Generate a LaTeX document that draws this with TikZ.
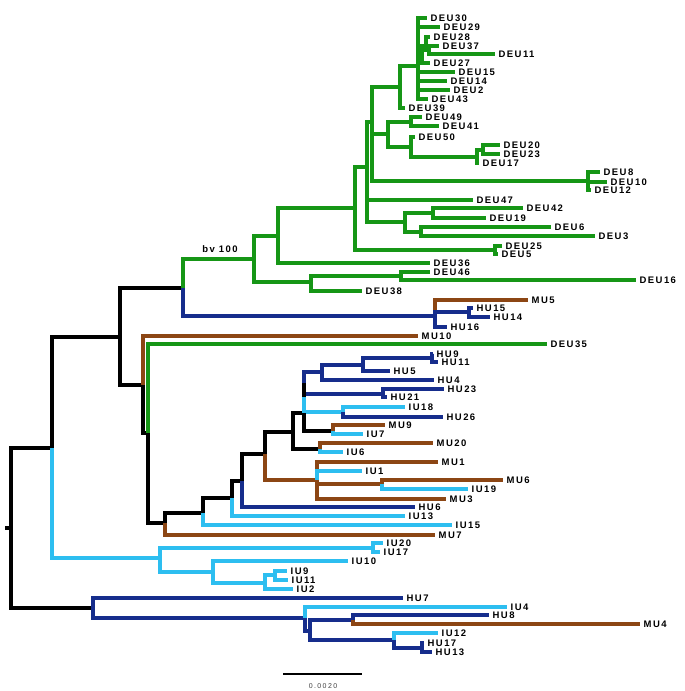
\documentclass[tikz,border=0pt]{standalone}
\usepackage{fontspec}
\setmainfont{Liberation Sans}
\newfontfamily\leaffont[LetterSpace=15]{Liberation Sans}
\newfontfamily\barfont[LetterSpace=20]{Liberation Sans}
\definecolor{treegreen}{RGB}{22,150,22}
\definecolor{treeblue}{RGB}{22,45,140}
\definecolor{treecyan}{RGB}{45,190,240}
\definecolor{treebrown}{RGB}{140,70,20}
\tikzset{
	leaf/.style={anchor=west,inner xsep=3.5pt,inner ysep=0pt,font=\leaffont\bfseries\fontsize{9.5}{9.5}\selectfont},
	branch/.style={line width=3.2pt},
	kbr/.style={branch,color=black},
	gbr/.style={branch,color=treegreen},
	bbr/.style={branch,color=treeblue},
	cbr/.style={branch,color=treecyan},
	mbr/.style={branch,color=treebrown},
	bvlabel/.style={font=\leaffont\bfseries\fontsize{9.5}{9.5}\selectfont},
	scalelabel/.style={font=\barfont\fontsize{7}{7}\selectfont,text=black!75}
}

\begin{document}
\begin{tikzpicture}[x=1pt,y=-1pt]
\useasboundingbox (0,0) rectangle (685,691);

%%%% inner nodes, backbone
\coordinate (base) at (5,528);
\coordinate (root) at (11,528);
\coordinate (n52) at (52,448);
\coordinate (n120) at (120,337);
\coordinate (bv) at (183,288);
\coordinate (n143) at (143,385);
\coordinate (n148) at (148,433);
\coordinate (n165) at (165,523);
\coordinate (n203) at (203,513);
\coordinate (n232) at (232,498);
\coordinate (n242) at (242,481);
\coordinate (n265) at (265,454);
\coordinate (n293) at (293,432);
\coordinate (p1) at (304,413);
\coordinate (p2) at (304,397);
\coordinate (p3) at (304,383);

%%%% inner nodes, DEU
\coordinate (gA) at (254,259);
\coordinate (gB) at (278,236);
\coordinate (gC) at (355,208);
\coordinate (gD) at (367,167);
\coordinate (gF) at (372,122);
\coordinate (gG) at (400,87);
\coordinate (gM) at (418,66);
\coordinate (gN) at (422,57);
\coordinate (gO) at (426,46);
\coordinate (gP) at (429,50);
\coordinate (gH) at (388,134);
\coordinate (gQ) at (411,122);
\coordinate (gR) at (411,147);
\coordinate (gS) at (477,157);
\coordinate (gT) at (483,150);
\coordinate (gK) at (588,181);
\coordinate (gI) at (405,222);
\coordinate (gJ) at (433,213);
\coordinate (gU) at (421,232);
\coordinate (gE) at (495,250);
\coordinate (gL) at (311,282);
\coordinate (gV) at (401,276);

%%%% inner nodes, HU / IU / MU
\coordinate (hA) at (435,316);
\coordinate (hB) at (469,312);
\coordinate (bA) at (322,372);
\coordinate (bA1) at (363,365);
\coordinate (bA2) at (432,358);
\coordinate (bB) at (383,394);
\coordinate (cC) at (343,412);
\coordinate (mD) at (333,431);
\coordinate (mC) at (320,449);
\coordinate (mA) at (317,480);
\coordinate (mB) at (382,484);
\coordinate (iQ) at (160,558);
\coordinate (iR) at (373,548);
\coordinate (iS) at (213,572);
\coordinate (iT) at (265,583);
\coordinate (iU) at (275,575);
\coordinate (hV) at (93,608);
\coordinate (hW) at (305,618);
\coordinate (hX) at (310,631);
\coordinate (hY) at (353,620);
\coordinate (hZ) at (394,640);
\coordinate (hZ2) at (422,648);

%%%% leaves, DEU
\node[leaf] (DEU30) at (427,18) {DEU30};
\node[leaf] (DEU29) at (440,27) {DEU29};
\node[leaf] (DEU28) at (430,37) {DEU28};
\node[leaf] (DEU37) at (439,46) {DEU37};
\node[leaf] (DEU11) at (495,54) {DEU11};
\node[leaf] (DEU27) at (430,63) {DEU27};
\node[leaf] (DEU15) at (455,72) {DEU15};
\node[leaf] (DEU14) at (447,81) {DEU14};
\node[leaf] (DEU2) at (450,90) {DEU2};
\node[leaf] (DEU43) at (428,99) {DEU43};
\node[leaf] (DEU39) at (405,108) {DEU39};
\node[leaf] (DEU49) at (422,117) {DEU49};
\node[leaf] (DEU41) at (439,126) {DEU41};
\node[leaf] (DEU50) at (415,137) {DEU50};
\node[leaf] (DEU20) at (500,145) {DEU20};
\node[leaf] (DEU23) at (500,154) {DEU23};
\node[leaf] (DEU17) at (479,163) {DEU17};
\node[leaf] (DEU8) at (600,172) {DEU8};
\node[leaf] (DEU10) at (607,182) {DEU10};
\node[leaf] (DEU12) at (591,190) {DEU12};
\node[leaf] (DEU47) at (473,200) {DEU47};
\node[leaf] (DEU42) at (523,208) {DEU42};
\node[leaf] (DEU19) at (486,218) {DEU19};
\node[leaf] (DEU6) at (551,227) {DEU6};
\node[leaf] (DEU3) at (595,236) {DEU3};
\node[leaf] (DEU25) at (502,246) {DEU25};
\node[leaf] (DEU5) at (498,254) {DEU5};
\node[leaf] (DEU36) at (430,263) {DEU36};
\node[leaf] (DEU46) at (430,272) {DEU46};
\node[leaf] (DEU16) at (636,280) {DEU16};
\node[leaf] (DEU38) at (362,291) {DEU38};
\node[leaf] (DEU35) at (547,344) {DEU35};

%%%% leaves, HU / IU / MU
\node[leaf] (MU5) at (528,300) {MU5};
\node[leaf] (HU15) at (473,308) {HU15};
\node[leaf] (HU14) at (490,317) {HU14};
\node[leaf] (HU16) at (447,327) {HU16};
\node[leaf] (MU10) at (418,336) {MU10};
\node[leaf] (HU9) at (433,354) {HU9};
\node[leaf] (HU11) at (438,362) {HU11};
\node[leaf] (HU5) at (390,371) {HU5};
\node[leaf] (HU4) at (434,380) {HU4};
\node[leaf] (HU23) at (444,389) {HU23};
\node[leaf] (HU21) at (387,397) {HU21};
\node[leaf] (IU18) at (405,407) {IU18};
\node[leaf] (HU26) at (443,417) {HU26};
\node[leaf] (MU9) at (385,425) {MU9};
\node[leaf] (IU7) at (363,434) {IU7};
\node[leaf] (MU20) at (433,443) {MU20};
\node[leaf] (IU6) at (343,452) {IU6};
\node[leaf] (MU1) at (438,462) {MU1};
\node[leaf] (IU1) at (362,471) {IU1};
\node[leaf] (MU6) at (503,480) {MU6};
\node[leaf] (IU19) at (468,489) {IU19};
\node[leaf] (MU3) at (446,499) {MU3};
\node[leaf] (HU6) at (415,507) {HU6};
\node[leaf] (IU13) at (405,516) {IU13};
\node[leaf] (IU15) at (452,525) {IU15};
\node[leaf] (MU7) at (435,535) {MU7};
\node[leaf] (IU20) at (383,543) {IU20};
\node[leaf] (IU17) at (380,552) {IU17};
\node[leaf] (IU10) at (348,561) {IU10};
\node[leaf] (IU9) at (287,571) {IU9};
\node[leaf] (IU11) at (288,580) {IU11};
\node[leaf] (IU2) at (293,589) {IU2};
\node[leaf] (HU7) at (403,598) {HU7};
\node[leaf] (IU4) at (507,607) {IU4};
\node[leaf] (HU8) at (489,615) {HU8};
\node[leaf] (MU4) at (640,624) {MU4};
\node[leaf] (IU12) at (438,633) {IU12};
\node[leaf] (HU17) at (424,643) {HU17};
\node[leaf] (HU13) at (432,652) {HU13};

%%%% top of the tree
\draw[kbr] (root) |- (n52) (n52) |- (n120) (n120) |- (bv);
\draw[gbr] (bv) |- (gA) (gA) |- (gB) (gB) |- (gC) (gC) |- (gD) (gD) |- (gF)
	(gF) |- (gG) (gG) |- (gM) (gM) |- (DEU30) (gM) |- (DEU29) (gM) |- (gN)
	(gN) |- (gO) (gO) |- (DEU28) (gO) |- (gP) (gP) |- (DEU37) (gP) |- (DEU11)
	(gN) |- (DEU27) (gM) |- (DEU15) (gM) |- (DEU14) (gM) |- (DEU2) (gM) |- (DEU43)
	(gG) |- (DEU39)
	(gF) |- (gH) (gH) |- (gQ) (gQ) |- (DEU49) (gQ) |- (DEU41)
	(gH) |- (gR) (gR) |- (DEU50) (gR) |- (gS) (gS) |- (gT) (gT) |- (DEU20) (gT) |- (DEU23) (gS) |- (DEU17)
	(gF) |- (gK) (gK) |- (DEU8) (gK) |- (DEU10) (gK) |- (DEU12)
	(gD) |- (DEU47)
	(gD) |- (gI) (gI) |- (gJ) (gJ) |- (DEU42) (gJ) |- (DEU19) (gI) |- (gU) (gU) |- (DEU6) (gU) |- (DEU3)
	(gC) |- (gE) (gE) |- (DEU25) (gE) |- (DEU5)
	(gB) |- (DEU36)
	(gA) |- (gL) (gL) |- (gV) (gV) |- (DEU46) (gV) |- (DEU16) (gL) |- (DEU38);
\draw[bbr] (bv) |- (hA);
\draw[mbr] (hA) |- (MU5);
\draw[bbr] (hA) |- (hB) (hB) |- (HU15) (hB) |- (HU14) (hA) |- (HU16);

%%%% middle part
\draw[kbr] (n120) |- (n143);
\draw[mbr] (n143) |- (MU10);
\draw[kbr] (n143) |- (n148);
\draw[gbr] (n148) |- (DEU35);
\draw[kbr] (n148) |- (n165) (n165) |- (n203) (n203) |- (n232) (n232) |- (n242)
	(n242) |- (n265) (n265) |- (n293) (n293) |- (p1) (p1) -- (p2);
\draw[bbr] (p2) |- (bB) (bB) |- (HU23) (bB) |- (HU21);
\draw[kbr] (p2) -- (p3);
\draw[bbr] (p3) |- (bA) (bA) |- (bA1) (bA1) |- (bA2) (bA2) |- (HU9) (bA2) |- (HU11)
	(bA1) |- (HU5) (bA) |- (HU4);
\draw[cbr] (p2) |- (cC) (cC) |- (IU18);
\draw[bbr] (cC) |- (HU26);
\draw[kbr] (p1) |- (mD);
\draw[mbr] (mD) |- (MU9);
\draw[cbr] (mD) |- (IU7);
\draw[kbr] (n293) |- (mC);
\draw[mbr] (mC) |- (MU20);
\draw[cbr] (mC) |- (IU6);
\draw[mbr] (n265) |- (mA) (mA) |- (MU1);
\draw[cbr] (mA) |- (IU1);
\draw[mbr] (mA) |- (mB) (mB) |- (MU6) (mA) |- (MU3);
\draw[cbr] (mB) |- (IU19);
\draw[bbr] (n242) |- (HU6);
\draw[cbr] (n232) |- (IU13) (n203) |- (IU15);
\draw[mbr] (n165) |- (MU7);

%%%% IU group
\draw[cbr] (n52) |- (iQ) (iQ) |- (iR) (iR) |- (IU20) (iR) |- (IU17)
	(iQ) |- (iS) (iS) |- (IU10) (iS) |- (iT) (iT) |- (iU) (iU) |- (IU9) (iU) |- (IU11)
	(iT) |- (IU2);

%%%% bottom HU group
\draw[kbr] (base) -- (root) (root) |- (hV);
\draw[bbr] (hV) |- (HU7) (hV) |- (hW);
\draw[cbr] (hW) |- (IU4);
\draw[bbr] (hW) |- (hX) (hX) |- (hY) (hY) |- (HU8);
\draw[mbr] (hY) |- (MU4);
\draw[bbr] (hX) |- (hZ);
\draw[cbr] (hZ) |- (IU12);
\draw[bbr] (hZ) |- (hZ2) (hZ2) |- (HU17) (hZ2) |- (HU13);

%%%% labels
\node[bvlabel] (bvtext) at (220,249) {bv 100};
\coordinate (sbL) at (283,674);
\coordinate (sbR) at (362,674);
\draw[line width=2.5pt] (sbL) -- (sbR);
\node[scalelabel] (sbtext) at (323,686) {0.0020};
\end{tikzpicture}
\end{document}
